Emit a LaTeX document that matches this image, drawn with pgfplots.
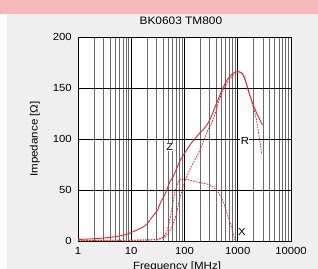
\documentclass[border=0pt]{standalone}
\usepackage{fontspec}
\setmainfont{Liberation Sans}[FakeStretch=1.1]
\usepackage{pgfplots}
\pgfplotsset{compat=1.18}
\definecolor{zred}{RGB}{232,35,45}
\definecolor{pinkband}{RGB}{246,185,186}
\definecolor{panel}{RGB}{239,239,239}
\begin{document}
\begin{tikzpicture}
\useasboundingbox (0,0) rectangle (318bp,269bp);
\fill[white] (0,0) rectangle (318bp,269bp);
\fill[pinkband] (0,255bp) rectangle (318bp,269bp);
\fill[panel] (7bp,0) rectangle (318bp,255bp);
\begin{axis}[
  at={(78bp,28bp)}, anchor=south west,
  scale only axis, width=213bp, height=204bp,
  xmode=log, xmin=1, xmax=10000, ymin=0, ymax=200,
  xtick={1,10,100,1000,10000},
  xticklabels={1,10,100,1000,10000},
  ytick={0,50,100,150,200},
  major tick length=0pt, minor tick length=0pt,
  xmajorgrids, xminorgrids, ymajorgrids,
  major grid style={black, line width=0.9bp},
  minor grid style={black!58, line width=1bp},
  axis line style={black, line width=0.9bp},
  axis background/.style={fill=white},
  font=\fontsize{10.3bp}{12bp}\selectfont,
  ticklabel style={font=\fontsize{10.3bp}{12bp}\selectfont},
  /pgf/number format/assume math mode=true,
  xticklabel style={inner sep=0pt, anchor=north, yshift=-6bp},
  yticklabel style={inner sep=0pt, anchor=east, xshift=-6bp},
  title={BK0603 TM800},
  title style={at={(axis description cs:0.483,1)}, anchor=base, yshift=7bp, inner sep=0pt, font=\fontsize{10.8bp}{12bp}\selectfont},
  xlabel={Frequency [MHz]},
  xlabel style={at={(axis description cs:0.465,0)}, anchor=north, yshift=-21bp, inner sep=0pt, font=\fontsize{10.5bp}{12bp}\selectfont},
  ylabel={Impedance [Ω]},
  ylabel style={at={(axis description cs:-0.202,0.5)}, anchor=center, inner sep=0pt, font=\fontsize{10.5bp}{12bp}\selectfont},
]
% Z
\addplot[zred, line width=0.9bp, smooth] coordinates {
(1,1.5) (2,2.2) (4,3.5) (6,5) (8.7,7) (13,11) (17,14) (20,17) (25,24) (31,30) (35,37)
(45,48) (53,58) (61,63) (70,70) (81,78) (95,84) (126,94) (194,106) (241,111) (300,119)
(400,135) (497,147) (617,157) (800,164) (1018,166) (1300,162) (1680,143) (2240,126) (2900,114)};
% R
\addplot[zred, line width=0.8bp, dash pattern=on 1.6bp off 1.2bp, smooth] coordinates {
(1,0.5) (10,0.8) (20,1) (30,1.5) (40,3) (50,8) (60,16) (70,26) (80,40) (94,53) (126,70)
(194,89) (276,109) (345,119) (497,145) (617,154) (800,162) (1080,166) (1300,161) (1680,143)
(2240,119) (2800,86)};
% X
\addplot[zred, line width=0.8bp, dash pattern=on 1.6bp off 1.2bp, smooth] coordinates {
(1,0.5) (10,0.8) (20,1) (30,1.5) (40,4) (47,10) (53,21) (60,36) (66,48) (74,56) (81,60)
(108,60.5) (167,58) (300,55) (400,50) (500,42) (570,34) (660,24) (760,14) (880,1)};
\node[font=\fontsize{10.3bp}{12bp}\selectfont, fill=white, inner sep=0.5bp] at (axis cs:53,92) {Z};
\node[font=\fontsize{10.3bp}{12bp}\selectfont, fill=white, inner sep=0.5bp] at (axis cs:1360,98) {R};
\node[font=\fontsize{10.3bp}{12bp}\selectfont, fill=white, inner sep=0.5bp] at (axis cs:1195,9) {X};
\end{axis}
\end{tikzpicture}
\end{document}
